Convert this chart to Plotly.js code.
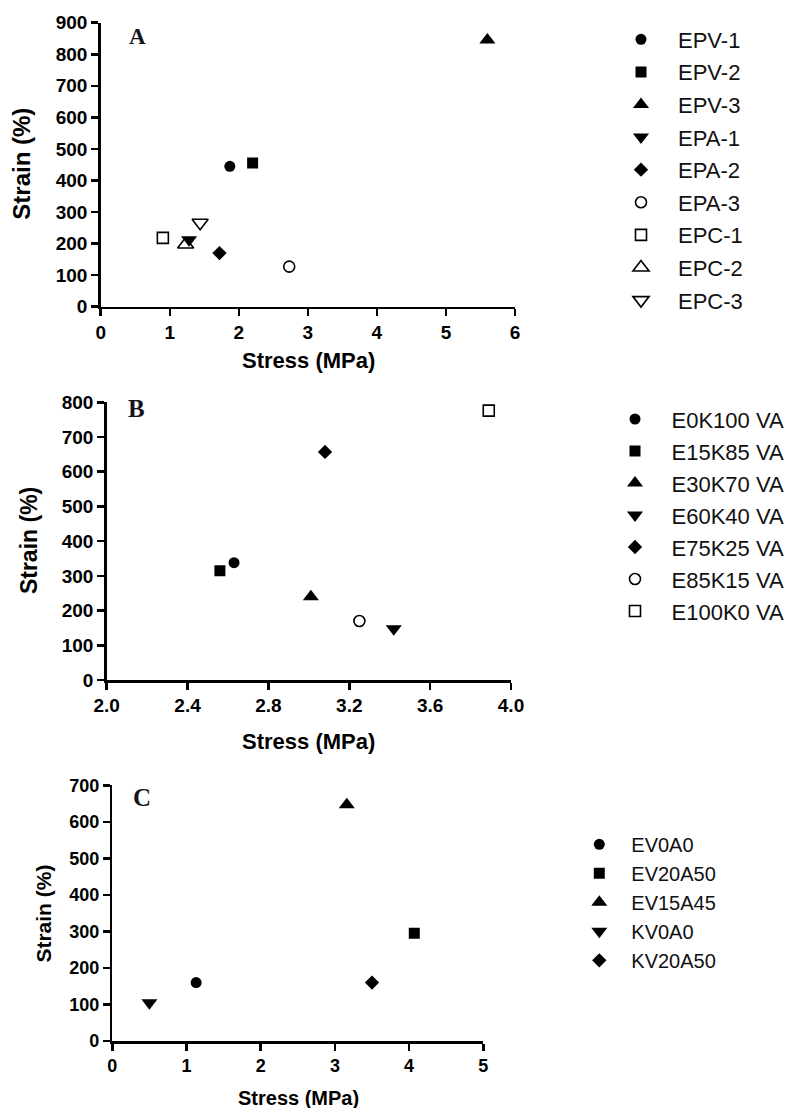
<!DOCTYPE html>
<html>
<head>
<meta charset="utf-8">
<script src="https://cdn.plot.ly/plotly-3.0.1.min.js"></script>
<style>
  html, body { margin: 0; padding: 0; background: #fff; }
  #chart { width: 803px; height: 1108px; }
</style>
</head>
<body>
<div id="chart"></div>
<script>
// ---- Panel A: EP blends ----
const namesA  = ['EPV-1', 'EPV-2', 'EPV-3', 'EPA-1', 'EPA-2', 'EPA-3', 'EPC-1', 'EPC-2', 'EPC-3'];
const stressA = [1.87, 2.20, 5.60, 1.28, 1.72, 2.73, 0.90, 1.23, 1.44];
const strainA = [445, 455, 845, 212, 170, 127, 218, 197, 266];

// ---- Panel B: E/K ratio series ----
const namesB  = ['E0K100 VA', 'E15K85 VA', 'E30K70 VA', 'E60K40 VA', 'E75K25 VA', 'E85K15 VA', 'E100K0 VA'];
const stressB = [2.63, 2.56, 3.01, 3.42, 3.08, 3.25, 3.89];
const strainB = [338, 315, 240, 148, 657, 170, 776];

// ---- Panel C: EV / KV series ----
const namesC  = ['EV0A0', 'EV20A50', 'EV15A45', 'KV0A0', 'KV20A50'];
const stressC = [1.13, 4.07, 3.16, 0.50, 3.50];
const strainC = [160, 295, 647, 105, 160];

// marker shapes, one per series
const symbolsA = ['circle', 'square', 'triangle-up', 'triangle-down', 'diamond',
                  'circle-open', 'square-open', 'triangle-up-open', 'triangle-down-open'];
const symbolsB = ['circle', 'square', 'triangle-up', 'triangle-down', 'diamond',
                  'circle-open', 'square-open'];
const symbolsC = ['circle', 'square', 'triangle-up', 'triangle-down', 'diamond'];

const W = 803, H = 1108;
const fx = p => p / W;
const fy = p => 1 - p / H;

// Plotly triangles are flat and diamonds are wide, so sizes differ per shape
const markerSize = {
  'circle': 11, 'square': 11, 'triangle-up': 14, 'triangle-down': 14, 'diamond': 11,
  'circle-open': 11, 'square-open': 11, 'triangle-up-open': 14, 'triangle-down-open': 14
};

function makeTraces(names, xs, ys, symbols, xa, ya, legendId) {
  return names.map((name, i) => ({
    type: 'scatter',
    mode: 'markers',
    name: name,
    x: [xs[i]],
    y: [ys[i]],
    xaxis: xa,
    yaxis: ya,
    legend: legendId,
    legendgroup: legendId + '-' + i,
    marker: {
      symbol: symbols[i],
      size: markerSize[symbols[i]],
      color: '#000',
      line: { color: '#000', width: symbols[i].endsWith('-open') ? 1.6 : 0 }
    },
    hoverinfo: 'x+y+name'
  }));
}

const data = [].concat(
  makeTraces(namesA, stressA, strainA, symbolsA, 'x', 'y', 'legend'),
  makeTraces(namesB, stressB, strainB, symbolsB, 'x2', 'y2', 'legend2'),
  makeTraces(namesC, stressC, strainC, symbolsC, 'x3', 'y3', 'legend3')
);

const tickFont = size => ({ family: 'Liberation Sans, Arial, sans-serif', size: size, weight: 'bold', color: '#000' });

function axis(extra, fontSize) {
  return Object.assign({
    showline: true, linecolor: '#000', linewidth: 2.5,
    ticks: 'outside', ticklen: 7, tickwidth: 2.5, tickcolor: '#000',
    showgrid: false, zeroline: false, fixedrange: true,
    tickfont: tickFont(fontSize)
  }, extra);
}

// plot boxes in pixels: [left, right, top, bottom]
const boxA = [100.7, 515.0, 22.7, 306.7];
const boxB = [106.7, 511.0, 402.3, 680.0];
const boxC = [112.3, 483.3, 785.3, 1041.0];
const xdom = b => [fx(b[0]), fx(b[1])];
const ydom = b => [fy(b[3]), fy(b[2])];

function legendAt(left, top, fontSize, itemwidth, gap) {
  return {
    x: fx(left), y: fy(top), xanchor: 'left', yanchor: 'top',
    xref: 'paper', yref: 'paper',
    bgcolor: 'rgba(0,0,0,0)', borderwidth: 0,
    font: { family: 'Liberation Sans, Arial, sans-serif', size: fontSize, color: '#111' },
    itemsizing: 'trace', itemwidth: itemwidth,
    traceorder: 'grouped', tracegroupgap: gap,
    itemclick: false, itemdoubleclick: false
  };
}

const titleFont = size => ({ family: 'Liberation Sans, Arial, sans-serif', size: size, weight: 'bold', color: '#000' });
const letterFont = size => ({ family: 'Liberation Serif, Times New Roman, serif', size: size, weight: 'bold', color: '#15141c' });

function label(text, cx, cy, font, angle) {
  return {
    text: text, xref: 'paper', yref: 'paper', x: fx(cx), y: fy(cy),
    xanchor: 'center', yanchor: 'middle', showarrow: false,
    font: font, textangle: angle || 0
  };
}

const layout = {
  width: W, height: H,
  margin: { l: 0, r: 0, t: 0, b: 0 },
  paper_bgcolor: '#fff', plot_bgcolor: '#fff',
  showlegend: true,
  xaxis:  axis({ domain: xdom(boxA), anchor: 'y',  range: [0, 6], dtick: 1, tick0: 0 }, 19),
  yaxis:  axis({ domain: ydom(boxA), anchor: 'x',  range: [0, 900], dtick: 100, tick0: 0 }, 19),
  xaxis2: axis({ domain: xdom(boxB), anchor: 'y2', range: [2, 4], dtick: 0.4, tick0: 2, tickformat: '.1f' }, 19),
  yaxis2: axis({ domain: ydom(boxB), anchor: 'x2', range: [0, 800], dtick: 100, tick0: 0 }, 19),
  xaxis3: axis({ domain: xdom(boxC), anchor: 'y3', range: [0, 5], dtick: 1, tick0: 0 }, 18),
  yaxis3: axis({ domain: ydom(boxC), anchor: 'x3', range: [0, 700], dtick: 100, tick0: 0 }, 18),
  legend:  legendAt(604, 18.5, 22, 64, 1),
  legend2: legendAt(598.5, 398.2, 22, 63, 0.4),
  legend3: legendAt(567.3, 824.8, 20, 54, 0),
  annotations: [
    label('A', 137, 36.7, letterFont(23)),
    label('B', 136.7, 408.3, letterFont(25)),
    label('C', 141.7, 797.7, letterFont(25)),
    label('Stress (MPa)', 308, 361, titleFont(22)),
    label('Stress (MPa)', 308.7, 741.7, titleFont(22)),
    label('Stress (MPa)', 298, 1098.3, titleFont(20)),
    label('Strain (%)', 20.7, 164, titleFont(24), -90),
    label('Strain (%)', 28.3, 540.8, titleFont(23), -90),
    label('Strain (%)', 43.3, 913.3, titleFont(21), -90)
  ]
};

Plotly.newPlot('chart', data, layout, { staticPlot: true, displayModeBar: false });
</script>
</body>
</html>
